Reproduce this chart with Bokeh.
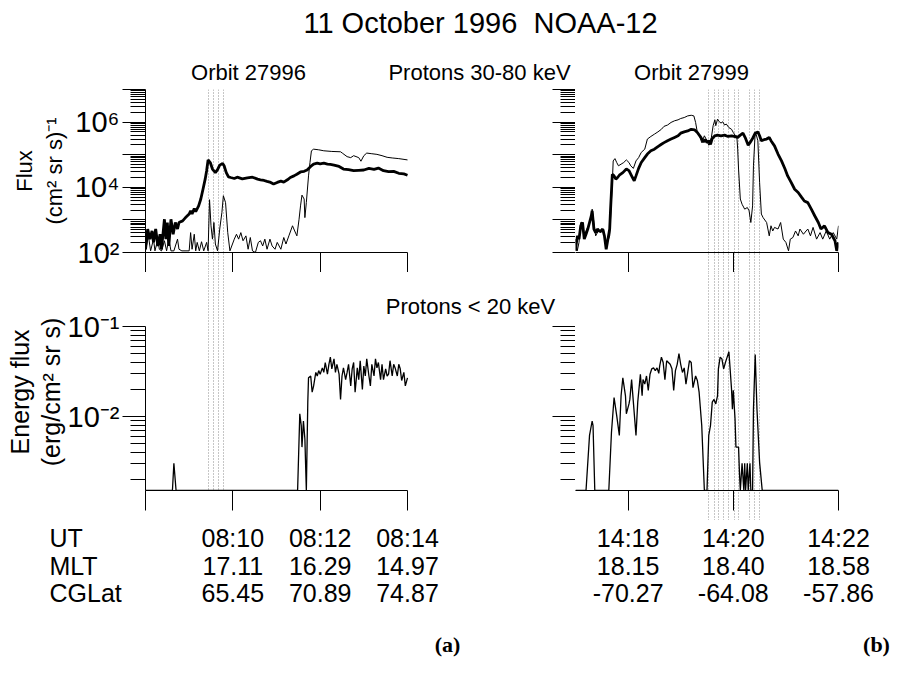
import numpy as np
from bokeh.plotting import figure
from bokeh.models import Range1d, LinearAxis, LogAxis, FixedTicker, Label
from bokeh.layouts import column, row
from bokeh.embed import file_html
from bokeh.resources import INLINE
from bokeh.core.properties import value

# ---------------------------------------------------------------- texts
TITLE = "11 October 1996  NOAA-12"
ORBIT_A = "Orbit 27996"
ORBIT_B = "Orbit 27999"
BAND_HI = "Protons 30-80 keV"
BAND_LO = "Protons < 20 keV"
FLUX_LABEL = "Flux\n(cm\u00b2 sr s)\u207b\u00b9"
EF_LABEL = "Energy flux\u00a0\u00a0\u00a0\n(erg/cm\u00b2 sr s)\u00a0\u00a0\u00a0"
ROW_NAMES = ["UT", "MLT", "CGLat"]

# ---------------------------------------------------------------- time axes
# panel (a): seconds after 08:08:00 UT, panel (b): seconds after 14:17:00 UT
A_SPAN = 360
B_SPAN = 300
a_ticks = [0, 120, 240, 360]
b_ticks = [60, 180, 300]
a_ut = ["", "08:10", "08:12", "08:14"]
a_mlt = ["", "17.11", "16.29", "14.97"]
a_cglat = ["", "65.45", "70.89", "74.87"]
b_ut = ["14:18", "14:20", "14:22"]
b_mlt = ["18.15", "18.40", "18.58"]
b_cglat = ["-70.27", "-64.08", "-57.86"]

# dotted marker times (s)
a_marks = [86, 93, 100, 107]
b_marks = [152, 158, 163, 169, 175, 181, 186, 198, 204, 210]

# ---------------------------------------------------------------- flux 30-80 keV, log10 (cm2 sr s)^-1
a_thick_t = [0, 3, 6, 9, 11, 14, 17, 20, 22, 26, 28, 30, 32, 35, 38, 41, 44, 46, 51, 55,
             60, 62, 64, 67, 69, 73, 76, 79, 82, 84, 86, 89, 92, 96, 99, 102, 106, 108, 111, 114,
             117, 122, 126, 133, 140, 147, 154, 158, 163, 167, 172, 176, 181, 186, 190, 195, 199, 204, 208, 213,
             218, 222, 227, 231, 236, 240, 245, 250, 254, 259, 266, 272, 279, 286, 293, 300, 307, 314, 320, 327,
             334, 341, 348, 355, 360]
a_thick_v = [2.10, 2.72, 2.41, 2.66, 2.31, 2.72, 2.20, 2.56, 2.10, 3.02, 2.41, 2.92, 2.20, 3.02, 2.56, 2.92, 2.72, 2.92, 2.97, 3.07,
             3.18, 3.28, 3.18, 3.35, 3.25, 3.43, 3.64, 3.94, 4.25, 4.51, 4.84, 4.76, 4.56, 4.45, 4.54, 4.68, 4.73, 4.66, 4.45, 4.32,
             4.30, 4.27, 4.31, 4.26, 4.29, 4.31, 4.25, 4.23, 4.21, 4.18, 4.15, 4.10, 4.15, 4.19, 4.16, 4.23, 4.30, 4.35, 4.40, 4.47,
             4.49, 4.53, 4.64, 4.71, 4.74, 4.72, 4.74, 4.71, 4.70, 4.68, 4.64, 4.56, 4.54, 4.51, 4.52, 4.53, 4.58, 4.55, 4.59, 4.51,
             4.48, 4.49, 4.43, 4.41, 4.37]
a_thin_t = [0, 4, 7, 11, 13, 17, 19, 22, 26, 29, 32, 35, 39, 44, 46, 50, 60, 62, 64, 67,
            69, 71, 74, 77, 80, 84, 86, 88, 90, 92, 94, 96, 99, 102, 105, 107, 110, 113, 116, 122,
            125, 128, 131, 134, 138, 141, 144, 147, 151, 155, 158, 161, 164, 167, 171, 174, 178, 181, 186, 190,
            193, 197, 202, 205, 208, 211, 213, 215, 218, 219, 221, 224, 226, 228, 231, 238, 245, 256, 268, 271,
            277, 282, 286, 293, 296, 300, 304, 311, 318, 325, 332, 339, 348, 360]
a_thin_v = [2.05, 2.51, 2.05, 2.41, 2.05, 2.41, 2.10, 2.05, 2.36, 2.05, 2.41, 2.05, 2.05, 2.41, 2.10, 2.05, 2.05, 2.61, 2.10, 2.56,
            2.05, 2.31, 2.05, 2.33, 2.05, 2.31, 2.05, 3.62, 2.82, 2.41, 2.92, 2.26, 2.05, 2.72, 3.23, 3.74, 3.53, 2.61, 2.05, 2.41,
            2.56, 2.41, 2.61, 2.36, 2.51, 2.10, 2.46, 2.05, 2.00, 2.31, 2.36, 2.20, 2.41, 2.10, 2.41, 2.20, 2.10, 2.31, 2.10, 2.46,
            2.26, 2.51, 2.82, 2.66, 2.51, 3.02, 3.43, 3.76, 3.64, 3.07, 3.53, 4.35, 4.76, 5.12, 5.17, 5.15, 5.12, 5.10, 5.09, 5.04,
            4.94, 4.91, 4.97, 4.91, 4.80, 4.97, 5.05, 5.03, 5.01, 4.97, 4.92, 4.90, 4.88, 4.84]

b_thick_t = [0, 2, 4, 6, 8, 10, 12, 14, 16, 18, 19, 21, 23, 25, 27, 29, 31, 33, 35, 37,
             39, 40, 42, 44, 46, 48, 50, 54, 58, 61, 65, 67, 69, 72, 75, 79, 82, 86, 90, 94,
             98, 101, 105, 109, 113, 117, 120, 124, 128, 132, 136, 139, 143, 146, 148, 150, 152, 154, 156, 159,
             162, 166, 170, 174, 178, 181, 185, 188, 191, 194, 197, 199, 202, 205, 208, 210, 212, 215, 218, 221,
             223, 227, 231, 235, 239, 242, 246, 250, 254, 258, 261, 265, 269, 273, 277, 280, 284, 288, 292, 296,
             298, 300]
b_thick_v = [2.05, 2.51, 2.41, 2.82, 2.92, 2.41, 2.56, 2.72, 2.92, 3.12, 3.28, 2.72, 2.61, 2.72, 2.66, 2.66, 2.72, 2.51, 2.10, 2.41,
             2.72, 3.33, 4.40, 4.35, 4.25, 4.30, 4.37, 4.45, 4.56, 4.51, 4.30, 4.20, 4.35, 4.58, 4.76, 4.91, 5.02, 5.12, 5.17, 5.25,
             5.32, 5.37, 5.43, 5.48, 5.53, 5.58, 5.66, 5.70, 5.73, 5.78, 5.76, 5.68, 5.53, 5.39, 5.46, 5.37, 5.43, 5.32, 5.50, 5.58,
             5.60, 5.58, 5.60, 5.56, 5.58, 5.56, 5.53, 5.60, 5.66, 5.50, 5.29, 5.37, 5.50, 5.66, 5.70, 5.58, 5.43, 5.46, 5.48, 5.53,
             5.43, 5.27, 5.02, 4.81, 4.56, 4.35, 4.15, 3.94, 3.84, 3.69, 3.58, 3.53, 3.33, 3.12, 2.92, 2.72, 2.82, 2.61, 2.56, 2.36,
             2.05, 2.31]
b_thin_t = [0, 2, 4, 6, 8, 10, 12, 15, 18, 19, 21, 23, 26, 29, 32, 34, 37, 39, 42, 43,
            45, 47, 49, 52, 55, 58, 61, 63, 66, 69, 72, 75, 79, 82, 86, 90, 94, 98, 101, 105,
            109, 113, 117, 120, 124, 128, 132, 135, 137, 139, 142, 144, 147, 150, 152, 155, 157, 159, 160, 162,
            164, 166, 168, 170, 172, 175, 178, 180, 183, 184, 185, 186, 188, 190, 193, 196, 198, 200, 202, 203,
            205, 206, 208, 210, 212, 214, 218, 221, 223, 225, 227, 231, 234, 237, 240, 243, 245, 248, 251, 254,
            256, 260, 263, 265, 268, 271, 275, 279, 282, 286, 290, 294, 298, 300]
b_thin_v = [2.41, 2.05, 2.31, 2.92, 2.72, 2.51, 2.66, 2.82, 3.02, 3.33, 2.92, 2.51, 2.66, 2.61, 2.72, 2.31, 2.36, 2.51, 4.15, 4.81,
            4.88, 4.76, 4.66, 4.71, 4.76, 4.84, 4.76, 4.66, 4.58, 4.81, 4.91, 5.07, 5.17, 5.48, 5.56, 5.63, 5.70, 5.78, 5.87, 5.91,
            5.99, 6.04, 6.07, 6.11, 6.14, 6.19, 6.21, 6.19, 5.99, 5.68, 5.53, 5.37, 5.58, 5.43, 5.29, 5.53, 5.89, 6.07, 5.89, 6.09,
            6.01, 5.97, 6.01, 5.91, 5.94, 5.83, 5.78, 5.68, 5.56, 5.58, 5.17, 4.56, 3.64, 3.48, 3.33, 3.38, 3.28, 2.92, 3.43, 4.66,
            5.70, 5.63, 5.43, 4.15, 3.18, 3.07, 2.92, 2.51, 2.82, 2.66, 2.77, 2.72, 2.92, 2.41, 2.31, 2.05, 2.41, 2.46, 2.66, 2.51,
            2.72, 2.56, 2.66, 2.72, 2.51, 2.77, 2.41, 2.61, 2.41, 2.66, 2.41, 2.61, 2.41, 2.82]

# ---------------------------------------------------------------- energy flux < 20 keV, log10 erg/(cm2 sr s); None = no signal
a_ef_t = [0, 37, 39, 42, 209, 212, 214, 215, 217, 219, 221, 223, 224, 227, 229, 231, 234, 236, 238, 240,
          243, 245, 247, 250, 252, 254, 256, 259, 261, 263, 266, 268, 270, 272, 275, 277, 279, 282, 284, 286,
          288, 291, 293, 295, 298, 300, 302, 304, 307, 309, 311, 314, 316, 318, 320, 323, 325, 327, 330, 332,
          334, 336, 339, 341, 343, 346, 348, 350, 352, 355, 357, 360]
a_ef_v = [None, None, -2.52, None, None, -1.97, -2.10, -2.34, -2.05, -2.25,
          None, -1.84, -1.57, -1.55, -1.73, -1.66, -1.51, -1.55, -1.49, -1.53,
          -1.46, -1.51, -1.40, -1.53, -1.42, -1.34, -1.47, -1.36, -1.51, -1.42,
          -1.53, -1.81, -1.55, -1.46, -1.59, -1.51, -1.42, -1.66, -1.47, -1.40,
          -1.73, -1.46, -1.59, -1.38, -1.70, -1.44, -1.55, -1.36, -1.55, -1.66,
          -1.42, -1.55, -1.36, -1.46, -1.40, -1.59, -1.42, -1.59, -1.47, -1.55,
          -1.53, -1.38, -1.55, -1.42, -1.46, -1.55, -1.42, -1.47, -1.60, -1.51,
          -1.66, -1.57]
b_ef_t = [0, 12, 16, 19, 20, 22, 38, 41, 44, 47, 50, 52, 54, 57, 58, 61, 62, 64, 66, 69,
          71, 74, 76, 77, 79, 81, 83, 85, 87, 89, 91, 93, 95, 96, 98, 100, 102, 104, 106, 108,
          110, 112, 114, 116, 118, 120, 122, 124, 126, 128, 130, 132, 134, 137, 139, 141, 144, 147, 150, 152,
          154, 156, 158, 160, 162, 163, 165, 167, 169, 171, 173, 175, 176, 178, 179, 180, 182, 183, 186, 187,
          188, 190, 192, 193, 194, 196, 197, 199, 200, 202, 203, 205, 207, 210, 213, 300]
b_ef_v = [None, None, -2.21, -2.05, -2.10, None, None, -2.18, -1.79, -1.99,
          -2.21, -1.77, -1.57, -1.77, -1.97, -1.86, -1.81, -1.59, -1.84, -2.21,
          -1.84, -1.53, -1.77, -1.59, -1.64, -1.55, -1.71, -1.53, -1.47, -1.46,
          -1.49, -1.46, -1.52, -1.44, -1.34, -1.40, -1.59, -1.38, -1.40, -1.42,
          -1.47, -1.71, -1.49, -1.42, -1.30, -1.42, -1.51, -1.46, -1.64, -1.51,
          -1.38, -1.40, -1.68, -1.55, -1.60, -1.73, -2.10, None, None, -2.21,
          -2.10, -1.84, -1.81, -1.86, -1.77, -1.47, -1.34, -1.36, -1.47, -1.40,
          -1.34, -1.28, -1.42, -1.70, -1.92, -1.71, -2.03, -2.34, -2.34, -2.62,
          None, -2.52, None, -2.52, None, -2.52, None, -2.52, None, None,
          -1.92, -1.31, -1.92, -2.51, None, None]

FLUX_MAJOR = [1e2, 1e3, 1e4, 1e5, 1e6, 1e7]
FLUX_MINOR = [k * 10.0 ** n for n in range(2, 7) for k in range(2, 10)]
EF_MAJOR = [0.01, 0.1]
EF_MINOR = [k * 1e-3 for k in range(2, 10)] + [k * 1e-2 for k in range(2, 10)]

# ---------------------------------------------------------------- geometry (page px)
FONT = "Liberation Sans"
M = 8
PAGE_W = 893
A_X0, A_X1 = 153, 415
B_X0, B_X1 = 583, 846
TITLE_B = 95           # bottom of title strip
TOP_Y0, TOP_Y1 = 97, 260
TICK = 20
BOT_Y0 = TOP_Y1 + TICK  # bottom row starts below the flux-panel ticks
BOT_Y1 = 498
MARK_OUT = 30           # dotted markers of (b) run below the axis
TABLE_Y0 = BOT_Y1 + MARK_OUT
PAGE_B = 665
DEC_TOP = (TOP_Y1 - TOP_Y0) / 5.0
EF_TICK_Y = 334
DEC_BOT = 90.0


def a_sec(px):
    return (px - A_X0) / (A_X1 - A_X0) * A_SPAN


def ef_y(py):
    return 10 ** (-1 - (py - EF_TICK_Y) / DEC_BOT)


EF_MIN = ef_y(BOT_Y1)
EF_MAX = ef_y(BOT_Y0)


def flux(vals):
    return [10.0 ** v for v in vals]


def eflux(vals):
    return [10.0 ** v if v is not None else EF_MIN for v in vals]


def base(**kw):
    p = figure(output_backend="svg", toolbar_location=None, **kw)
    p.outline_line_color = None
    p.background_fill_color = "white"
    p.border_fill_color = "white"
    for g in p.grid:
        g.visible = False
    return p


def style_axis(ax, ticks, minor=None, labels=None, out=0, inn=0, mout=0, minn=0,
               font_px="29px", bounds=None):
    ax.ticker = FixedTicker(ticks=ticks, minor_ticks=minor or [])
    ax.major_tick_out = out
    ax.major_tick_in = inn
    ax.minor_tick_out = mout
    ax.minor_tick_in = minn
    ax.axis_line_color = "black"
    ax.major_tick_line_color = "black"
    ax.minor_tick_line_color = "black"
    ax.axis_line_width = 1
    ax.major_tick_line_width = 1
    ax.minor_tick_line_width = 1
    ax.axis_label = None
    if labels is None:
        ax.major_label_overrides = {t: "" for t in ticks}
        ax.major_label_text_font_size = "0px"
        ax.major_label_standoff = 0
    else:
        ax.major_label_overrides = labels
        ax.major_label_text_font = FONT
        ax.major_label_text_font_size = font_px
        ax.major_label_text_color = "black"
        ax.major_label_standoff = 3
    if bounds is not None:
        ax.bounds = bounds


def set_title(ax, text, size, standoff, line_height=1.2):
    ax.axis_label = text
    ax.axis_label_text_font = FONT
    ax.axis_label_text_font_size = size
    ax.axis_label_text_font_style = "normal"
    ax.axis_label_text_color = "black"
    ax.axis_label_text_line_height = line_height
    ax.axis_label_standoff = standoff


def dotted_minor(ax):
    ax.minor_tick_line_color = "#8c8c8c"
    ax.minor_tick_line_dash = "1 2"


MARK = dict(line_color="#8c8c8c", line_dash="1 2", line_width=1)
LEFT_W = B_X0 - M
RIGHT_W = PAGE_W - LEFT_W
TOP_H = BOT_Y0 - TITLE_B
BOT_H = TABLE_Y0 - BOT_Y0

xa = Range1d(0, a_sec(B_X0))
xb = Range1d(0, B_SPAN)

# ---------------------------------------------------------------- title strip
TF_H = TITLE_B - M
tf = base(width=PAGE_W, height=TF_H, x_range=Range1d(0, PAGE_W),
          y_range=Range1d(TF_H, 0), x_axis_location=None, y_axis_location=None,
          min_border_left=0, min_border_right=0, min_border_top=0, min_border_bottom=0)
tf.text(x=[488 - M], y=[30 - M], text=[TITLE.replace("  ", "\u00a0 ")], text_font=value(FONT),
        text_font_size=value("29px"), text_align="center", text_baseline="middle", text_color="black")
tf.text(x=[256 - M, 487 - M, 699 - M], y=[80 - M] * 3, text=[ORBIT_A, BAND_HI, ORBIT_B],
        text_font=value(FONT), text_font_size=value("22px"), text_align="center",
        text_baseline="middle", text_color="black")

# ---------------------------------------------------------------- (a) flux
tl = base(width=LEFT_W, height=TOP_H, x_range=xa, y_range=Range1d(1e2, 1e7), y_axis_type="log",
          min_border_left=A_X0 - M, min_border_right=0,
          min_border_top=TOP_Y0 - TITLE_B, min_border_bottom=TICK)
style_axis(tl.yaxis[0], FLUX_MAJOR, FLUX_MINOR,
           labels={100: "10\u00b2", 1000: "", 10000: "10\u2074", 100000: "", 1000000: "10\u2076", 10000000: ""},
           out=23, mout=15)
set_title(tl.yaxis[0], FLUX_LABEL, "22px", 5)
style_axis(tl.xaxis[0], a_ticks, a_marks, None, out=TICK, mout=TICK, bounds=(0, A_SPAN))
dotted_minor(tl.xaxis[0])
rax = LogAxis()
style_axis(rax, FLUX_MAJOR, FLUX_MINOR, None, inn=23, minn=15)
tl.add_layout(rax, "right")
tl.vspan(x=a_marks, **MARK)
tl.line(a_thin_t, flux(a_thin_v), line_color="black", line_width=1)
tl.line(a_thick_t, flux(a_thick_v), line_color="black", line_width=2.8)

# ---------------------------------------------------------------- (b) flux
tr = base(width=RIGHT_W, height=TOP_H, x_range=xb, y_range=Range1d(1e2, 1e7), y_axis_type="log",
          y_axis_location=None, min_border_left=0,
          min_border_right=PAGE_W + M - B_X1, min_border_top=TOP_Y0 - TITLE_B, min_border_bottom=TICK)
style_axis(tr.xaxis[0], b_ticks, b_marks, None, out=TICK, mout=TICK)
dotted_minor(tr.xaxis[0])
tr.vspan(x=b_marks, **MARK)
tr.line(b_thin_t, flux(b_thin_v), line_color="black", line_width=1)
tr.line(b_thick_t, flux(b_thick_v), line_color="black", line_width=2.8)

# ---------------------------------------------------------------- (a) energy flux
bl = base(width=LEFT_W, height=BOT_H, x_range=xa, y_range=Range1d(EF_MIN, EF_MAX), y_axis_type="log",
          min_border_left=A_X0 - M, min_border_right=0, min_border_top=0,
          min_border_bottom=MARK_OUT)
style_axis(bl.xaxis[0], a_ticks, None, None, out=TICK, bounds=(0, A_SPAN))
style_axis(bl.yaxis[0], EF_MAJOR, EF_MINOR, labels={0.01: "10\u207b\u00b2", 0.1: "10\u207b\u00b9"},
           out=23, mout=15, bounds=(EF_MIN, 0.1))
set_title(bl.yaxis[0], EF_LABEL, "25px", 0, line_height=1.1)
rax2 = LogAxis()
style_axis(rax2, EF_MAJOR, EF_MINOR, None, inn=23, minn=15, bounds=(EF_MIN, 0.1))
bl.add_layout(rax2, "right")
bl.vspan(x=a_marks, **MARK)
bl.line(a_ef_t, eflux(a_ef_v), line_color="black", line_width=1.3)
bl.add_layout(Label(x=a_sec(478), y=ef_y(314), text=BAND_LO, text_align="center",
                    text_baseline="middle", text_font=FONT, text_font_size="22px",
                    text_color="black"))

# ---------------------------------------------------------------- (b) energy flux
br = base(width=RIGHT_W, height=BOT_H, x_range=xb, y_range=Range1d(EF_MIN, EF_MAX), y_axis_type="log",
          y_axis_location=None, min_border_left=0, min_border_right=PAGE_W + M - B_X1,
          min_border_top=0, min_border_bottom=MARK_OUT)
style_axis(br.xaxis[0], b_ticks, b_marks, None, out=TICK, mout=MARK_OUT)
dotted_minor(br.xaxis[0])
br.vspan(x=b_marks, **MARK)
br.line(b_ef_t, eflux(b_ef_v), line_color="black", line_width=1.3)

# ---------------------------------------------------------------- table of coordinates
TAB_H = PAGE_B - TABLE_Y0
tt = base(width=PAGE_W, height=TAB_H, x_range=Range1d(0, PAGE_W), y_range=Range1d(TAB_H, 0),
          x_axis_location=None, y_axis_location=None,
          min_border_left=0, min_border_right=0, min_border_top=0, min_border_bottom=0)
row_y = [545 - TABLE_Y0, 573 - TABLE_Y0, 600 - TABLE_Y0]
tt.text(x=[57 - M] * 3, y=row_y, text=ROW_NAMES, text_font=value(FONT), text_font_size=value("25px"),
        text_align="left", text_baseline="middle", text_color="black")
xs, ys, ts = [], [], []
for i, tk in enumerate(a_ticks):
    px = A_X0 + tk / A_SPAN * (A_X1 - A_X0) - M
    for r, col in enumerate((a_ut, a_mlt, a_cglat)):
        if col[i]:
            xs.append(px); ys.append(row_y[r]); ts.append(col[i])
for i, tk in enumerate(b_ticks):
    px = B_X0 + tk / B_SPAN * (B_X1 - B_X0) - M
    for r, col in enumerate((b_ut, b_mlt, b_cglat)):
        xs.append(px); ys.append(row_y[r]); ts.append(col[i])
tt.text(x=xs, y=ys, text=ts, text_font=value(FONT), text_font_size=value("25px"),
        text_align="center", text_baseline="middle", text_color="black")
tt.text(x=[455 - M, 884 - M], y=[TAB_H - 1] * 2, text=["(a)", "(b)"],
        text_font=value("Liberation Serif"), text_font_style="bold", text_font_size=value("22px"),
        text_align="center", text_baseline="bottom", text_color="black")

layout = column(tf, row(tl, tr), row(bl, br), tt)
open("out.html", "w").write(file_html(layout, INLINE))
